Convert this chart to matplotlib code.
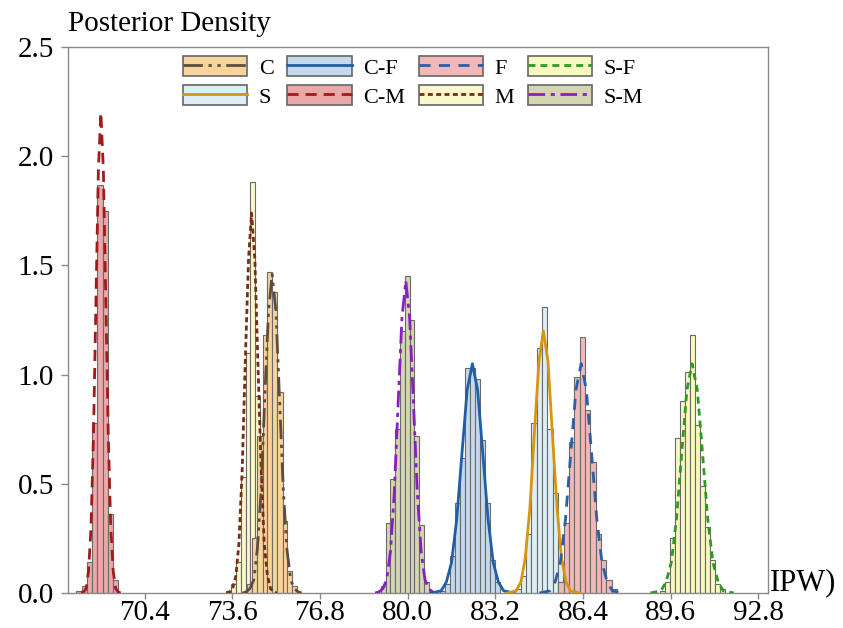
import numpy as np
import matplotlib
matplotlib.use('Agg')
import matplotlib.pyplot as plt
from matplotlib.patches import Patch
from matplotlib.lines import Line2D
from matplotlib.legend_handler import HandlerTuple

plt.rcParams['font.family'] = ['Liberation Serif', 'DejaVu Serif']

# histogram bin edges / heights and density curve points
C_edges = [74.15, 74.33, 74.51, 74.70, 74.88, 75.06, 75.24, 75.43, 75.61, 75.79, 75.97]
C_heights = [0.04, 0.25, 0.72, 1.18, 1.47, 1.38, 0.92, 0.33, 0.10, 0.03]
C_cx = [73.97, 74.10, 74.24, 74.38, 74.51, 74.65, 74.78, 74.92, 75.05, 75.19, 75.32,
        75.46, 75.59, 75.73, 75.86, 76.00, 76.13]
C_cy = [0.0, 0.005, 0.02, 0.06, 0.20, 0.47, 0.89, 1.29, 1.46, 1.29, 0.89,
        0.47, 0.20, 0.06, 0.02, 0.005, 0.0]

S_edges = [83.93, 84.12, 84.31, 84.51, 84.71, 84.90, 85.10, 85.29, 85.48, 85.68, 85.87]
S_heights = [0.02, 0.08, 0.27, 0.78, 1.12, 1.31, 0.75, 0.46, 0.14, 0.03]
S_cx = [83.63, 83.80, 83.96, 84.13, 84.29, 84.46, 84.62, 84.79, 84.95, 85.12, 85.28,
        85.45, 85.61, 85.78, 85.94, 86.11, 86.27]
S_cy = [0.0, 0.005, 0.01, 0.05, 0.16, 0.39, 0.73, 1.06, 1.20, 1.06, 0.73,
        0.39, 0.16, 0.05, 0.01, 0.005, 0.0]

CF_edges = [81.17, 81.35, 81.53, 81.72, 81.90, 82.08, 82.26, 82.45, 82.63, 82.81, 82.99, 83.18, 83.36]
CF_heights = [0.01, 0.04, 0.17, 0.41, 0.62, 1.03, 1.03, 0.98, 0.70, 0.41, 0.15, 0.05]
CF_cx = [80.84, 81.03, 81.22, 81.41, 81.60, 81.79, 81.98, 82.17, 82.36, 82.55, 82.74,
         82.93, 83.12, 83.31, 83.50, 83.69, 83.88]
CF_cy = [0.0, 0.005, 0.01, 0.05, 0.14, 0.34, 0.64, 0.93, 1.05, 0.93, 0.64,
         0.34, 0.14, 0.05, 0.01, 0.005, 0.0]

CM_edges = [67.91, 68.10, 68.29, 68.48, 68.67, 68.86, 69.05, 69.24, 69.43]
CM_heights = [0.01, 0.03, 0.14, 0.78, 1.87, 1.75, 0.36, 0.06]
CM_cx = [68.08, 68.17, 68.26, 68.35, 68.44, 68.53, 68.62, 68.71, 68.80, 68.89, 68.98,
         69.07, 69.16, 69.25, 69.34, 69.43, 69.52]
CM_cy = [0.0, 0.005, 0.02, 0.10, 0.30, 0.72, 1.34, 1.94, 2.20, 1.94, 1.34,
         0.72, 0.30, 0.10, 0.02, 0.005, 0.0]

F_edges = [85.49, 85.686, 85.882, 86.078, 86.274, 86.47, 86.666, 86.862, 87.058, 87.254, 87.45, 87.646]
F_heights = [0.05, 0.32, 0.69, 0.99, 1.17, 0.84, 0.60, 0.27, 0.15, 0.06, 0.02]
F_cx = [84.81, 85.00, 85.19, 85.38, 85.57, 85.76, 85.95, 86.14, 86.33, 86.52, 86.71,
        86.90, 87.09, 87.28, 87.47, 87.66, 87.85]
F_cy = [0.0, 0.005, 0.01, 0.05, 0.14, 0.34, 0.64, 0.93, 1.05, 0.93, 0.64,
        0.34, 0.14, 0.05, 0.01, 0.005, 0.0]

M_edges = [73.36, 73.54, 73.72, 73.90, 74.08, 74.26, 74.44, 74.62, 74.80, 74.98]
M_heights = [0.01, 0.04, 0.14, 0.53, 1.10, 1.88, 0.90, 0.35, 0.08]
M_cx = [73.38, 73.50, 73.61, 73.73, 73.84, 73.96, 74.07, 74.19, 74.30, 74.42, 74.53,
        74.65, 74.76, 74.88, 74.99, 75.11, 75.22]
M_cy = [0.0, 0.005, 0.02, 0.08, 0.23, 0.57, 1.06, 1.53, 1.74, 1.53, 1.06,
        0.57, 0.23, 0.08, 0.02, 0.005, 0.0]

SF_edges = [89.20, 89.38, 89.56, 89.75, 89.93, 90.11, 90.29, 90.48, 90.66, 90.84, 91.02, 91.21, 91.39, 91.57]
SF_heights = [0.01, 0.05, 0.25, 0.71, 0.88, 1.01, 1.18, 0.77, 0.49, 0.30, 0.15, 0.04, 0.02]
SF_cx = [88.86, 89.05, 89.24, 89.43, 89.62, 89.81, 90.00, 90.19, 90.38, 90.57, 90.76,
         90.95, 91.14, 91.33, 91.52, 91.71, 91.90]
SF_cy = [0.0, 0.005, 0.01, 0.05, 0.14, 0.34, 0.64, 0.93, 1.05, 0.93, 0.64,
         0.34, 0.14, 0.05, 0.01, 0.005, 0.0]

SM_edges = [79.015, 79.19, 79.365, 79.54, 79.715, 79.89, 80.065, 80.24, 80.415, 80.59, 80.765]
SM_heights = [0.03, 0.32, 0.52, 0.75, 1.20, 1.45, 1.25, 0.72, 0.31, 0.05]
SM_cx = [78.81, 78.95, 79.09, 79.23, 79.37, 79.51, 79.65, 79.79, 79.93, 80.07, 80.21,
         80.35, 80.49, 80.63, 80.77, 80.91, 81.05]
SM_cy = [0.0, 0.005, 0.02, 0.06, 0.19, 0.46, 0.87, 1.26, 1.43, 1.26, 0.87,
         0.46, 0.19, 0.06, 0.02, 0.005, 0.0]

labels = ['C', 'S', 'C-F', 'C-M', 'F', 'M', 'S-F', 'S-M']
x_ticks = [70.4, 73.6, 76.8, 80.0, 83.2, 86.4, 89.6, 92.8]
y_ticks = [0.0, 0.5, 1.0, 1.5, 2.0, 2.5]

# style per series: fill, line colour, dash pattern
styles = {
    'C':   ('#f8d49c', '#5e4d3e', (0, (7, 2, 1.2, 2, 1.2, 2))),
    'S':   ('#ddeef5', '#d8960e', '-'),
    'C-F': ('#c6d9ec', '#1f5fa6', '-'),
    'C-M': ('#eba8a8', '#a01c1c', (0, (4, 2.5))),
    'F':   ('#f2b8b8', '#2c5ea8', (0, (4, 3))),
    'M':   ('#fbf7cc', '#7a2c12', (0, (1.8, 1.2))),
    'S-F': ('#f8f8c0', '#2e9a22', (0, (2.5, 1.8))),
    'S-M': ('#d4d6b2', '#8a1ec0', (0, (6, 2, 1.5, 2))),
}

series = {
    'C': (C_edges, C_heights, C_cx, C_cy),
    'S': (S_edges, S_heights, S_cx, S_cy),
    'C-F': (CF_edges, CF_heights, CF_cx, CF_cy),
    'C-M': (CM_edges, CM_heights, CM_cx, CM_cy),
    'F': (F_edges, F_heights, F_cx, F_cy),
    'M': (M_edges, M_heights, M_cx, M_cy),
    'S-F': (SF_edges, SF_heights, SF_cx, SF_cy),
    'S-M': (SM_edges, SM_heights, SM_cx, SM_cy),
}

fig = plt.figure(figsize=(8.43, 6.28), dpi=100)
ax = fig.add_axes([68/843, 1 - 593/628, 700/843, 546/628])

draw_order = ['C-M', 'M', 'C', 'S-M', 'C-F', 'S', 'F', 'S-F']
for name in draw_order:
    edges, heights, cx, cy = series[name]
    edges = np.array(edges)
    ax.bar(edges[:-1], heights, width=np.diff(edges), align='edge',
           color=styles[name][0], edgecolor='#6a6a6a', linewidth=0.8, zorder=2)
for name in draw_order:
    edges, heights, cx, cy = series[name]
    ax.plot(cx, cy, color=styles[name][1], linestyle=styles[name][2],
            linewidth=2, zorder=3)

ax.set_xlim(67.6, 93.15)
ax.set_ylim(0, 2.5)
ax.set_xticks(x_ticks)
ax.set_xticklabels(['%.1f' % v for v in x_ticks])
ax.set_yticks(y_ticks)
ax.set_yticklabels(['%.1f' % v for v in y_ticks])
ax.tick_params(direction='out', length=5, width=1, color='#888888', labelsize=21)
ax.tick_params(axis='x', length=4, pad=1)
ax.tick_params(axis='y', pad=5)
for sp in ax.spines.values():
    sp.set_color('#8a8a8a')
    sp.set_linewidth(1)

handles = []
for name in labels:
    fc, lc, ls = styles[name]
    p = Patch(facecolor=fc, edgecolor='#666666', linewidth=1.2)
    l = Line2D([], [], color=lc, linestyle=ls, linewidth=2)
    handles.append((p, l))
ax.legend(handles, labels, ncol=4, loc='upper left',
          bbox_to_anchor=(183/843, 1 - 56/628), bbox_transform=fig.transFigure,
          frameon=False, fontsize=16, handlelength=2.9, handleheight=1.0,
          labelspacing=0.3, handletextpad=0.52, columnspacing=0.6,
          borderpad=0, borderaxespad=0,
          handler_map={tuple: HandlerTuple(ndivide=1, pad=0)})

fig.text(68/843, 1 - 31/628, 'Posterior Density', fontsize=21, va='baseline', ha='left')
fig.text(770/843, 1 - 590/628, 'IPW)', fontsize=22, va='baseline', ha='left')

fig.savefig('out.png', dpi=100)
